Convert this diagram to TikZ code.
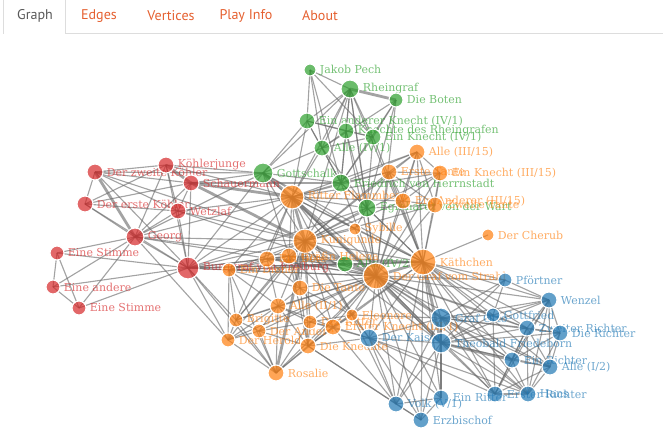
\documentclass[tikz,border=0pt]{standalone}
\usepackage{fontspec}
\setmainfont{DejaVu Serif}
\newfontfamily\tabfont{PT Sans}
\usetikzlibrary{backgrounds}
\definecolor{cgreen}{RGB}{44,160,44}
\definecolor{corange}{RGB}{255,127,14}
\definecolor{cblue}{RGB}{31,119,180}
\definecolor{cred}{RGB}{214,39,40}
\definecolor{tabtext}{RGB}{229,96,48}
\definecolor{tabline}{RGB}{221,221,221}

\begin{document}
\begin{tikzpicture}[x=0.025cm, y=-0.025cm,
  label distance=2.2pt,
  vtx/.style={circle, draw=white, line width=0.8pt, inner sep=0pt,
    minimum size=#1*0.5mm, fill opacity=0.7},
  gn/.style={vtx=#1, fill=cgreen},
  on/.style={vtx=#1, fill=corange},
  bn/.style={vtx=#1, fill=cblue},
  rn/.style={vtx=#1, fill=cred},
  lbl/.style={font=\fontsize{7.8}{9}\selectfont, inner sep=0pt,
    fill opacity=1, text opacity=0.65},
  gl/.style={lbl, text=cgreen},
  ol/.style={lbl, text=corange},
  bl/.style={lbl, text=cblue},
  rl/.style={lbl, text=cred},
  edge/.style={draw=black!60, line width=0.8pt, draw opacity=0.6},
  wide/.style={edge, line width=2pt},
  tab/.style={font=\tabfont\fontsize{10}{12}\selectfont, text=tabtext},
  tabborder/.style={draw=tabline, line width=0.7pt}
]
\useasboundingbox (0,0) rectangle (663,427);

% tabs
\node[tab, text=black!65] (tgraph) at (35,16) {Graph};
\node[tab] (tedges) at (99,16) {Edges};
\node[tab] (tvertices) at (171,16) {Vertices};
\node[tab] (tplay) at (246,16) {Play Info};
\node[tab] (tabout) at (320,16) {About};
\draw[tabborder] (3,34) -- (3,0);
\draw[tabborder] (65,0) -- (65,33) -- (663,33);

% red
\node[rn=8, label={[rl]right:Der zweite Köhler}] (zweite) at (95,172) {};
\node[rn=8, label={[rl]right:Köhlerjunge}] (koehlerj) at (166,165) {};
\node[rn=8, label={[rl]right:Schauermann}] (schauer) at (191,183) {};
\node[rn=8, label={[rl]right:Der erste Köhler}] (erste) at (85,204) {};
\node[rn=8, label={[rl]right:Wetzlaf}] (wetzlaf) at (178,211) {};
\node[rn=9, label={[rl]right:Georg}] (georg) at (135,237) {};
\node[rn=7, label={[rl]right:Eine Stimme}] (stimmea) at (57,253) {};
\node[rn=7, label={[rl]right:Eine andere}] (andere) at (53,287) {};
\node[rn=7, label={[rl]right:Eine Stimme}] (stimmeb) at (79,308) {};
\node[rn=11, label={[rl]right:Burggraf von Freiburg}] (burggraf) at (188,268) {};

% green
\node[gn=6, label={[gl]right:Jakob Pech}] (pech) at (310,70) {};
\node[gn=9, label={[gl]right:Rheingraf}] (rheingraf) at (350,89) {};
\node[gn=7, label={[gl]right:Die Boten}] (boten) at (396,100) {};
\node[gn=8, label={[gl]right:Ein anderer Knecht (IV/1)}] (aknecht) at (307,121) {};
\node[gn=8, label={[gl]right:Knechte des Rheingrafen}] (knechterh) at (346,131) {};
\node[gn=8, label={[gl]right:Ein Knecht (IV/1)}] (knecht) at (373,137) {};
\node[gn=8, label={[gl]right:Alle (IV/1)}] (alleiv) at (322,148) {};
\node[gn=10, label={[gl]right:Gottschalk}] (gottschalk) at (263,173) {};
\node[gn=9, label={[gl]right:Friedrich von Herrnstadt}] (herrnstadt) at (341,183) {};
\node[gn=9, label={[gl]right:Eginhardt von der Wart}] (eginhardt) at (367,208) {};
\node[gn=8, label={[gl]right:Alle (IV/2)}] (alleivb) at (345,264) {};

% orange
\node[on=8, label={[ol]right:Alle (III/15)}] (alleiii) at (417,152) {};
\node[on=8, label={[ol]right:Erste Tante}] (tante1) at (389,172) {};
\node[on=8, label={[ol]right:Ein Knecht (III/15)}] (knechtiii) at (440,173) {};
\node[on=12, label={[ol]right:Ritter Flammberg}] (flammberg) at (292,197) {};
\node[on=8, label={[ol]right:Ein Anderer (III/15)}] (andereriii) at (403,201) {};
\node[on=8, label={[ol]right:Zweite Tante}] (tante2) at (435,205) {};
\node[on=6, label={[ol]right:Der Cherub}] (cherub) at (488,235) {};
\node[on=12, label={[ol]right:Kunigunde}] (kunigunde) at (305,241) {};
\node[on=6, label={[ol]right:Sybille}] (sybille) at (355,229) {};
\node[on=8, label={[ol]right:Gräfin Helena}] (helena) at (289,256) {};
\node[on=8, label={[ol]right:Ein Bote}] (bote) at (267,259) {};
\node[on=7, label={[ol]right:Ein Diener}] (diener) at (229,270) {};
\node[on=8, label={[ol]right:Die Tante}] (nachtw) at (300,288) {};
\node[on=8, label={[ol]right:Alle (II/1)}] (alleii) at (278,306) {};
\node[on=7, label={[ol]right:Brigitte}] (brigitte) at (236,320) {};
\node[on=7, label={[ol]right:Der Andere}] (anderer) at (259,331) {};
\node[on=7, label={[ol]right:Der Herold}] (herold) at (228,340) {};
\node[on=7, label={[ol]right:Der Ritter}] (ritterii) at (310,322) {};
\node[on=6, label={[ol]right:Eleonore}] (eleonore) at (352,315) {};
\node[on=8, label={[ol]right:Erster Knecht (III/1)}] (erster) at (333,327) {};
\node[on=8, label={[ol]right:Die Knechte}] (knechte) at (308,346) {};
\node[on=8, label={[ol]right:Rosalie}] (rosalie) at (276,373) {};
\node[on=13, label={[ol]right:Der Graf vom Strahl}] (strahl) at (376,276) {};
\node[on=13, label={[ol]right:Käthchen}] (kaethchen) at (423,262) {};

% blue
\node[bn=7, label={[bl]right:Pförtner}] (pfoertner) at (505,280) {};
\node[bn=8, label={[bl]right:Wenzel}] (wenzel) at (549,300) {};
\node[bn=10, label={[bl]right:Graf Otto}] (grafotto) at (441,318) {};
\node[bn=7, label={[bl]right:Gottfried}] (gottfried) at (493,315) {};
\node[bn=8, label={[bl]right:Zweiter Richter}] (zweiterr) at (527,328) {};
\node[bn=8, label={[bl]right:Die Richter}] (dierichter) at (560,333) {};
\node[bn=9, label={[bl]right:Der Kaiser}] (kaiser) at (369,338) {};
\node[bn=10, label={[bl]right:Theobald Friedeborn}] (theobald) at (441,343) {};
\node[bn=8, label={[bl]right:Ein Richter}] (einr) at (512,360) {};
\node[bn=8, label={[bl]right:Alle (I/2)}] (allei) at (550,367) {};
\node[bn=8, label={[bl]right:Erster Richter}] (ersterr) at (495,394) {};
\node[bn=8, label={[bl]right:Hans}] (hans) at (528,394) {};
\node[bn=8, label={[bl]right:Ein Ritter}] (ritter) at (441,398) {};
\node[bn=8, label={[bl]right:Volk (V/1)}] (volk) at (396,404) {};
\node[bn=8, label={[bl]right:Erzbischof}] (erzbischof) at (421,420) {};

\begin{scope}[on background layer]
  % red group
  \foreach \a/\b in {zweite/koehlerj, zweite/schauer, zweite/erste, zweite/wetzlaf,
    zweite/burggraf, zweite/gottschalk, zweite/kunigunde, koehlerj/wetzlaf,
    koehlerj/georg, koehlerj/burggraf, koehlerj/erste, koehlerj/gottschalk,
    koehlerj/flammberg, schauer/wetzlaf, schauer/georg, schauer/burggraf,
    schauer/gottschalk, schauer/herrnstadt, erste/georg, erste/wetzlaf,
    erste/burggraf, erste/schauer, wetzlaf/georg, wetzlaf/burggraf,
    wetzlaf/kunigunde, wetzlaf/strahl, wetzlaf/flammberg, georg/burggraf,
    georg/stimmea, georg/stimmeb, georg/andere, georg/kunigunde, georg/strahl,
    georg/flammberg, georg/helena, georg/gottschalk, georg/herold,
    stimmea/andere, stimmea/stimmeb, stimmea/burggraf, andere/stimmeb,
    andere/burggraf, stimmeb/burggraf, burggraf/kunigunde, burggraf/strahl,
    burggraf/kaethchen, burggraf/diener, burggraf/flammberg, burggraf/bote,
    burggraf/helena, burggraf/alleivb, burggraf/herold, burggraf/rosalie,
    burggraf/brigitte, burggraf/gottschalk, burggraf/eginhardt}
    \draw[edge] (\a.center) -- (\b.center);
  % green group
  \foreach \a/\b in {pech/rheingraf, pech/aknecht, pech/alleiv, pech/knecht,
    pech/herrnstadt, rheingraf/aknecht, rheingraf/knechterh, rheingraf/knecht,
    rheingraf/alleiv, rheingraf/herrnstadt, rheingraf/eginhardt,
    rheingraf/gottschalk, rheingraf/flammberg, rheingraf/strahl,
    rheingraf/kunigunde, rheingraf/kaethchen, boten/knecht, boten/eginhardt,
    boten/herrnstadt, boten/alleiv, boten/strahl, aknecht/knechterh,
    aknecht/alleiv, aknecht/gottschalk, aknecht/herrnstadt, aknecht/knecht,
    aknecht/flammberg, knechterh/knecht, knechterh/alleiv, knechterh/herrnstadt,
    knechterh/eginhardt, knechterh/strahl, knecht/alleiv, knecht/herrnstadt,
    knecht/eginhardt, knecht/kaethchen, alleiv/herrnstadt, alleiv/gottschalk,
    alleiv/eginhardt, alleiv/flammberg, herrnstadt/eginhardt,
    herrnstadt/gottschalk, herrnstadt/flammberg, herrnstadt/kunigunde,
    herrnstadt/strahl, herrnstadt/kaethchen, herrnstadt/alleiii,
    herrnstadt/tante1, eginhardt/strahl, eginhardt/kaethchen,
    eginhardt/flammberg, eginhardt/kunigunde, eginhardt/sybille,
    eginhardt/tante1, eginhardt/tante2, gottschalk/strahl,
    gottschalk/kaethchen, gottschalk/kunigunde, gottschalk/helena,
    gottschalk/sybille, alleivb/strahl, alleivb/kaethchen, alleivb/kunigunde,
    alleivb/flammberg, alleivb/helena, alleivb/bote, alleivb/diener}
    \draw[edge] (\a.center) -- (\b.center);
  % orange group
  \foreach \a/\b in {alleiii/tante1, alleiii/knechtiii, alleiii/andereriii,
    alleiii/tante2, alleiii/strahl, alleiii/kaethchen, alleiii/flammberg,
    alleiii/kunigunde, tante1/knechtiii, tante1/andereriii, tante1/tante2,
    tante1/kunigunde, tante1/strahl, tante1/kaethchen, tante1/flammberg,
    knechtiii/andereriii, knechtiii/tante2, knechtiii/strahl,
    knechtiii/kaethchen, knechtiii/kunigunde, andereriii/tante2,
    andereriii/kaethchen, andereriii/strahl, andereriii/flammberg,
    andereriii/kunigunde, tante2/kaethchen, tante2/strahl, tante2/kunigunde,
    cherub/kaethchen, kaethchen/kunigunde, kaethchen/flammberg,
    kaethchen/sybille, kaethchen/helena, kaethchen/pfoertner, kaethchen/wenzel,
    kaethchen/gottfried, kaethchen/grafotto, kaethchen/zweiterr,
    kaethchen/dierichter, kaethchen/einr, kaethchen/allei, kaethchen/ersterr,
    kaethchen/hans, kaethchen/kaiser, kaethchen/ritter, kaethchen/erzbischof,
    kaethchen/volk, kaethchen/eleonore, kaethchen/erster, kaethchen/diener,
    kaethchen/bote, strahl/grafotto, strahl/kaiser, strahl/wenzel, strahl/hans,
    strahl/gottfried, strahl/pfoertner, strahl/einr, strahl/ersterr,
    strahl/allei, strahl/zweiterr, strahl/diener, strahl/helena, strahl/bote,
    strahl/nachtw, strahl/alleii, strahl/brigitte, strahl/eleonore,
    strahl/erster, strahl/knechte, strahl/rosalie, strahl/sybille,
    strahl/ritter, strahl/volk, strahl/erzbischof, strahl/herold,
    strahl/anderer, strahl/ritterii, kunigunde/sybille, kunigunde/helena,
    kunigunde/bote, kunigunde/diener, kunigunde/nachtw, kunigunde/alleii,
    kunigunde/brigitte, kunigunde/eleonore, kunigunde/knechte,
    kunigunde/erster, kunigunde/ritterii, kunigunde/kaiser, kunigunde/theobald,
    kunigunde/herold, flammberg/helena, flammberg/bote, flammberg/sybille,
    flammberg/nachtw, flammberg/knechtiii, flammberg/diener,
    flammberg/theobald, flammberg/grafotto, flammberg/eleonore,
    flammberg/brigitte, helena/bote, helena/diener, helena/nachtw,
    helena/eleonore, helena/brigitte, helena/knechte, bote/diener, bote/nachtw,
    bote/alleii, diener/herold, diener/brigitte, diener/rosalie, diener/alleii,
    diener/nachtw, nachtw/alleii, nachtw/erster, nachtw/knechte,
    nachtw/eleonore, alleii/brigitte, alleii/anderer, alleii/herold,
    alleii/rosalie, alleii/knechte, alleii/ritterii, alleii/erster,
    brigitte/anderer, brigitte/herold, brigitte/rosalie, anderer/herold,
    anderer/rosalie, anderer/ritterii, anderer/knechte, herold/rosalie,
    ritterii/erster, ritterii/knechte, ritterii/rosalie, ritterii/eleonore,
    ritterii/kaiser, erster/knechte, erster/eleonore, erster/rosalie,
    erster/kaiser, erster/volk, eleonore/knechte, eleonore/kaiser,
    eleonore/grafotto, eleonore/volk, knechte/rosalie, knechte/kaiser,
    knechte/volk, knechte/erzbischof}
    \draw[edge] (\a.center) -- (\b.center);
  % blue group
  \foreach \a/\b in {theobald/grafotto, theobald/kaiser, theobald/gottfried,
    theobald/wenzel, theobald/zweiterr, theobald/dierichter, theobald/allei,
    theobald/ersterr, theobald/hans, theobald/ritter, theobald/volk,
    theobald/erzbischof, theobald/pfoertner, grafotto/wenzel,
    grafotto/gottfried, grafotto/zweiterr, grafotto/dierichter, grafotto/einr,
    grafotto/allei, grafotto/ersterr, grafotto/hans, grafotto/pfoertner,
    grafotto/kaiser, grafotto/volk, grafotto/ritter, wenzel/hans,
    wenzel/ersterr, wenzel/einr, wenzel/zweiterr, wenzel/pfoertner,
    wenzel/gottfried, wenzel/dierichter, wenzel/allei, hans/einr, hans/allei,
    hans/zweiterr, hans/dierichter, ersterr/einr, ersterr/zweiterr,
    ersterr/allei, ersterr/gottfried, einr/allei, einr/zweiterr,
    einr/dierichter, allei/dierichter, allei/zweiterr, zweiterr/dierichter,
    zweiterr/gottfried, pfoertner/gottfried, kaiser/volk, kaiser/erzbischof,
    kaiser/ritter, kaiser/ersterr, kaiser/hans, volk/erzbischof, volk/ritter,
    ritter/erzbischof}
    \draw[edge] (\a.center) -- (\b.center);
  % heavy ties
  \foreach \a/\b in {zweite/georg, schauer/flammberg, schauer/kunigunde,
    koehlerj/schauer, rheingraf/boten, gottschalk/flammberg,
    kaethchen/strahl, strahl/kunigunde, strahl/flammberg, strahl/theobald,
    kaethchen/theobald, kunigunde/flammberg, kunigunde/rosalie,
    hans/ersterr, theobald/einr}
    \draw[wide] (\a.center) -- (\b.center);
\end{scope}
\end{tikzpicture}
\end{document}
